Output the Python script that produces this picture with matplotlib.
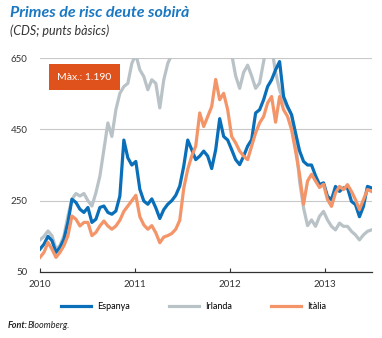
import matplotlib
matplotlib.use("Agg")
import matplotlib.pyplot as plt
import pandas as pd

# sèries llegides del gràfic (punts bàsics), mostreig aproximadament quinzenal
espanya = [114, 128, 150, 138, 105, 119, 142, 189, 254, 245, 226, 217, 231, 189, 198, 231,
           235, 217, 212, 221, 263, 420, 370, 350, 360, 282, 249, 240, 255, 230, 200, 225,
           240, 250, 265, 291, 347, 420, 393, 365, 375, 389, 375, 340, 393, 480, 430, 420,
           393, 365, 351, 375, 403, 421, 496, 505, 533, 570, 589, 617, 640, 542, 514, 491,
           440, 390, 360, 350, 350, 320, 295, 300, 262, 253, 290, 276, 286, 286, 248, 239,
           205, 234, 290, 286]
irlanda = [140, 150, 165, 152, 114, 124, 152, 207, 254, 270, 263, 270, 250, 235, 272, 319,
           393, 468, 430, 505, 551, 570, 579, 635, 660, 617, 598, 561, 589, 579, 510, 589,
           635, 660, 720, 820, 950, 1190, 1050, 950, 880, 820, 800, 760, 780, 840, 800, 720,
           660, 600, 565, 610, 630, 600, 565, 580, 640, 700, 680, 610, 560, 530, 510, 490,
           420, 305, 230, 180, 196, 178, 206, 220, 196, 178, 168, 187, 178, 178, 164, 154,
           140, 154, 164, 168]
italia = [91, 105, 133, 114, 91, 105, 124, 152, 207, 198, 179, 189, 189, 152, 161, 179,
          193, 179, 170, 179, 195, 220, 235, 250, 265, 205, 182, 170, 180, 160, 132, 148,
          152, 158, 170, 195, 285, 338, 375, 403, 496, 458, 486, 514, 590, 533, 551, 505,
          430, 412, 389, 375, 365, 403, 440, 468, 486, 524, 542, 470, 542, 505, 486, 449,
          389, 324, 240, 305, 324, 305, 287, 296, 253, 234, 272, 290, 281, 295, 276, 253,
          225, 253, 281, 276]
dates = pd.date_range("2010-01-01", "2013-06-28", periods=len(espanya))

y_ticks = [50, 250, 450, 650]
x_ticks = ["2010", "2011", "2012", "2013"]
max_label = "Màx.: 1.190"

C_ESP = "#0a6fb8"
C_IRL = "#b9c3c7"
C_ITA = "#f39568"
C_BOX = "#e0521c"

plt.rcParams["font.family"] = ["Lato", "DejaVu Sans"]

fig = plt.figure(figsize=(3.82, 3.38), dpi=100)
ax = fig.add_axes([0.1047, 0.1953, 0.869, 0.633])

ax.plot(dates, irlanda, color=C_IRL, lw=2.3, solid_joinstyle="round", label="Irlanda")
ax.plot(dates, espanya, color=C_ESP, lw=2.3, solid_joinstyle="round", label="Espanya")
ax.plot(dates, italia, color=C_ITA, lw=2.3, solid_joinstyle="round", label="Itàlia")

ax.set_ylim(50, 650)
ax.set_xlim(pd.Timestamp("2010-01-01"), pd.Timestamp("2013-06-30"))
ax.set_yticks(y_ticks)
ax.set_yticklabels([str(v) for v in y_ticks])
ax.set_xticks([pd.Timestamp(f"{y}-01-01") for y in x_ticks])
ax.set_xticklabels(x_ticks)
ax.tick_params(axis="y", length=0, pad=9, labelsize=7, colors="#333333")
ax.tick_params(axis="x", direction="in", length=3, width=0.8, pad=6, labelsize=7,
               colors="#333333")
for y in y_ticks[1:]:
    ax.axhline(y, color="#c8c8c8", lw=0.8, zorder=0)
for s in ["top", "right", "left"]:
    ax.spines[s].set_visible(False)
ax.spines["bottom"].set_color("#333333")
ax.spines["bottom"].set_linewidth(0.9)

fig.text(0.149, 0.772, max_label, color="white", fontsize=7.5, va="center", ha="left",
         bbox=dict(boxstyle="square,pad=0.8", fc=C_BOX, ec="none"))

fig.text(0.026, 0.962, "Primes de risc deute sobirà", color="#1a78c2", fontsize=11.5,
         fontweight="bold", fontstyle="italic", va="center")
fig.text(0.026, 0.908, "(CDS; punts bàsics)", color="#333333", fontsize=9,
         fontstyle="italic", va="center")

handles, labels = ax.get_legend_handles_labels()
order = [1, 0, 2]
fig.legend([handles[i] for i in order], [labels[i] for i in order], loc="center",
           bbox_to_anchor=(0.507, 0.094), ncol=3, frameon=False, fontsize=6.5,
           handlelength=3.3, columnspacing=4.3, handletextpad=0.7)

fig.text(0.021, 0.037, "Font:", color="#222222", fontsize=6.5, fontweight="bold",
         fontstyle="italic", va="center")
fig.text(0.073, 0.037, "Bloomberg.", color="#222222", fontsize=6.5, fontstyle="italic",
         va="center")

fig.savefig("out.png", dpi=100)
